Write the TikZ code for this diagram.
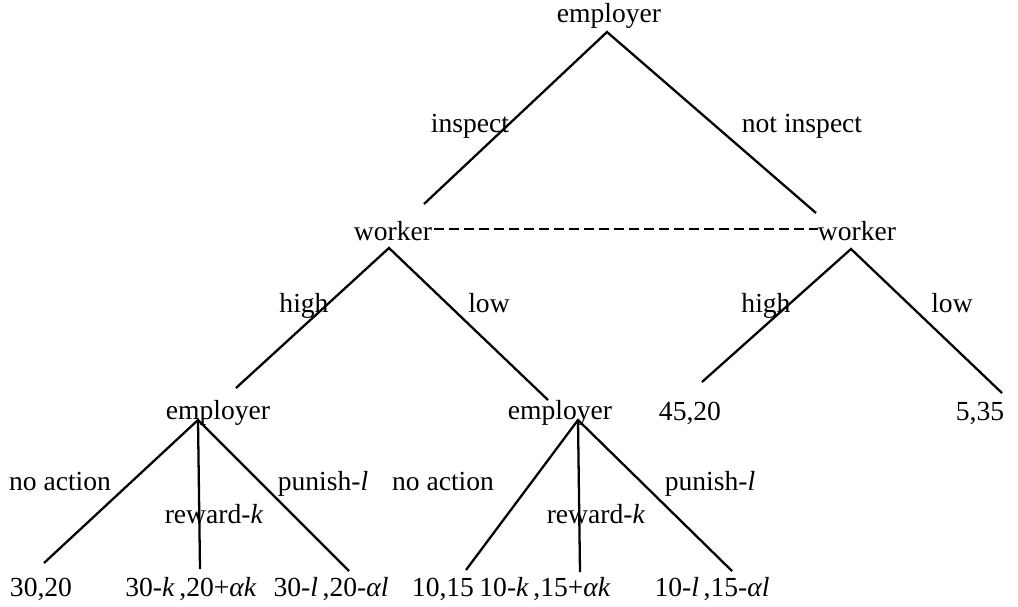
\documentclass[tikz,border=0pt]{standalone}
\usepackage{fontspec}
\setmainfont{Liberation Serif}
\usetikzlibrary{positioning}

\begin{document}
\begin{tikzpicture}[x=0.02cm, y=-0.02cm,
    lbl/.style={font=\fontsize{15.7}{18}\selectfont, inner sep=0pt, anchor=base},
    branch/.style={line width=1.3pt},
    infoset/.style={line width=1.2pt, dash pattern=on 0.2cm off 0.1cm}]
  \useasboundingbox (0,0) rectangle (1018,606);

  % decision nodes
  \node[lbl] (root) at (609,22) {employer};
  \node[lbl] (wl) at (393,240) {worker};
  \node[lbl] (wr) at (857,240) {worker};
  \node[lbl] (el) at (218,419) {employer};
  \node[lbl] (er) at (560,419) {employer};

  % branch points
  \coordinate (root-b) at (607,32);
  \coordinate (wl-t) at (424,204);
  \coordinate (wr-t) at (816,213);
  \coordinate (wl-b) at (389,248);
  \coordinate (wr-b) at (851,249);
  \coordinate (el-t) at (236,388);
  \coordinate (er-t) at (548,400);
  \coordinate (el-b) at (198,420);
  \coordinate (er-b) at (578,420);
  \coordinate (hr-t) at (702,382);
  \coordinate (lr-t) at (1002,393);

  % leaves
  \node[lbl] (p1) at (41,596) {30,20};
  \node[lbl] (p2) at (191,596) {30-\textit{k}\,,20+\textit{αk}};
  \node[lbl] (p3) at (331,596) {30-\textit{l}\,,20-\textit{αl}};
  \node[lbl] (p4) at (443,596) {10,15};
  \node[lbl] (p5) at (545,596) {10-\textit{k}\,,15+\textit{αk}};
  \node[lbl] (p6) at (712,596) {10-\textit{l}\,,15-\textit{αl}};
  \node[lbl] (p7) at (690,420) {45,20};
  \node[lbl] (p8) at (980,420) {5,35};
  \coordinate (p1-t) at (44,563);
  \coordinate (p2-t) at (200,569);
  \coordinate (p3-t) at (349,571);
  \coordinate (p4-t) at (466,570);
  \coordinate (p5-t) at (580,572);
  \coordinate (p6-t) at (732,571);

  % branches
  \draw[branch] (wl-t) -- (root-b) -- (wr-t);
  \draw[branch] (el-t) -- (wl-b) -- (er-t);
  \draw[branch] (hr-t) -- (wr-b) -- (lr-t);
  \draw[branch] (p1-t) -- (el-b) -- (p3-t);
  \draw[branch] (el-b) -- (p2-t);
  \draw[branch] (p4-t) -- (er-b) -- (p6-t);
  \draw[branch] (er-b) -- (p5-t);

  % information set
  \draw[infoset] (wl.base east) ++(2,-11) coordinate (is-a) -- (wr.west |- is-a);

  % actions
  \node[lbl] (a-insp) at (470,132) {inspect};
  \node[lbl] (a-ninsp) at (802,132) {not inspect};
  \node[lbl] (a-hl) at (304,312) {high};
  \node[lbl] (a-ll) at (489,312) {low};
  \node[lbl] (a-hr) at (766,312) {high};
  \node[lbl] (a-lr) at (952,312) {low};
  \node[lbl] (a-nl) at (60,490) {no action};
  \node[lbl] (a-rl) at (214,523) {reward-\textit{k}};
  \node[lbl] (a-pl) at (323,490) {punish-\textit{l}};
  \node[lbl] (a-nr) at (443,490) {no action};
  \node[lbl] (a-rr) at (596,523) {reward-\textit{k}};
  \node[lbl] (a-pr) at (710,490) {punish-\textit{l}};
\end{tikzpicture}
\end{document}
